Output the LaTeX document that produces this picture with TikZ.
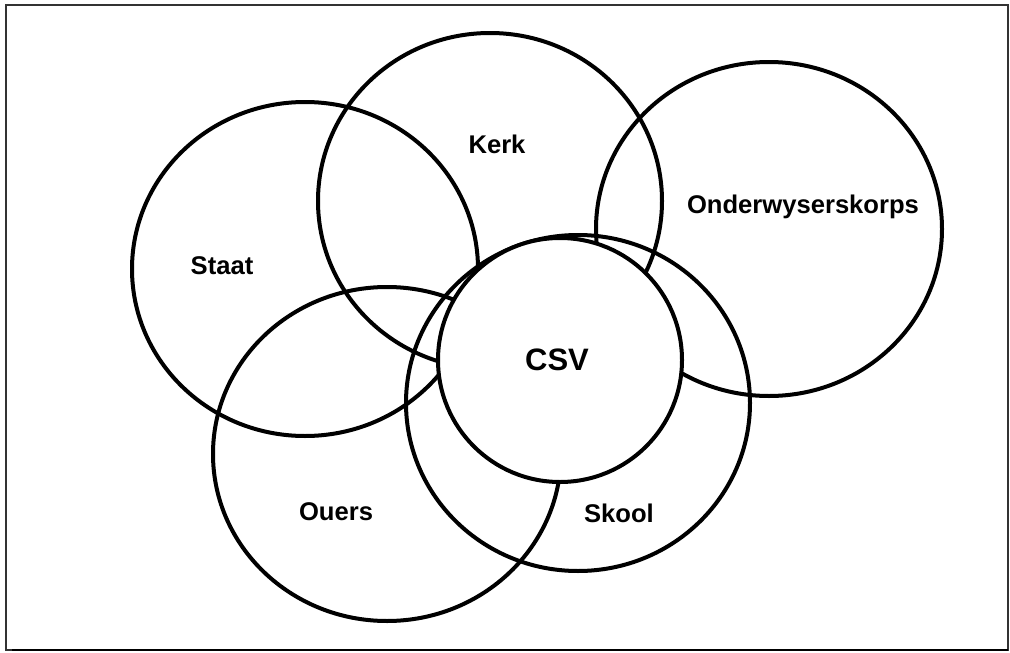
\documentclass[tikz,border=0pt]{standalone}
\usepackage{fontspec}
\setmainfont{Liberation Sans}
\usetikzlibrary{shapes.geometric}
\tikzset{
  ring/.style={ellipse, draw, line width=4pt, inner sep=0pt, minimum width=346pt, minimum height=334pt},
  lbl/.style={font=\fontsize{25.6}{28}\selectfont\bfseries, inner sep=0pt},
}
\begin{document}
\begin{tikzpicture}[x=1pt,y=-1pt]
\useasboundingbox (0,0) rectangle (1010,653);
\draw[line width=1.2pt, black!80] (6,5) rectangle (1008,650);
\draw[line width=2.4pt] (12,650) -- (1008,650);
\node[ring] (staat) at (305,269) {};
\node[ring, minimum width=344pt, minimum height=336pt] (kerk) at (490,201) {};
\node[ring] (onder) at (769,229) {};
\node[ring, minimum width=348pt] (ouers) at (387,454) {};
\node[ring, minimum width=344pt, minimum height=336pt] (skool) at (578,403) {};
\node[circle, draw, fill=white, line width=4pt, inner sep=0pt, minimum size=244pt] (csv) at (560,360) {};
\node[lbl] (tstaat) at (222,266) {Staat};
\node[lbl] (tkerk) at (497,144) {Kerk};
\node[lbl] (tonder) at (803,207) {Onderwyserskorps};
\node[lbl] (touers) at (336,512) {Ouers};
\node[lbl] (tskool) at (619,513) {Skool};
\node[font=\fontsize{31}{34}\selectfont\bfseries, inner sep=0pt] (tcsv) at (557,360) {CSV};
\end{tikzpicture}
\end{document}
